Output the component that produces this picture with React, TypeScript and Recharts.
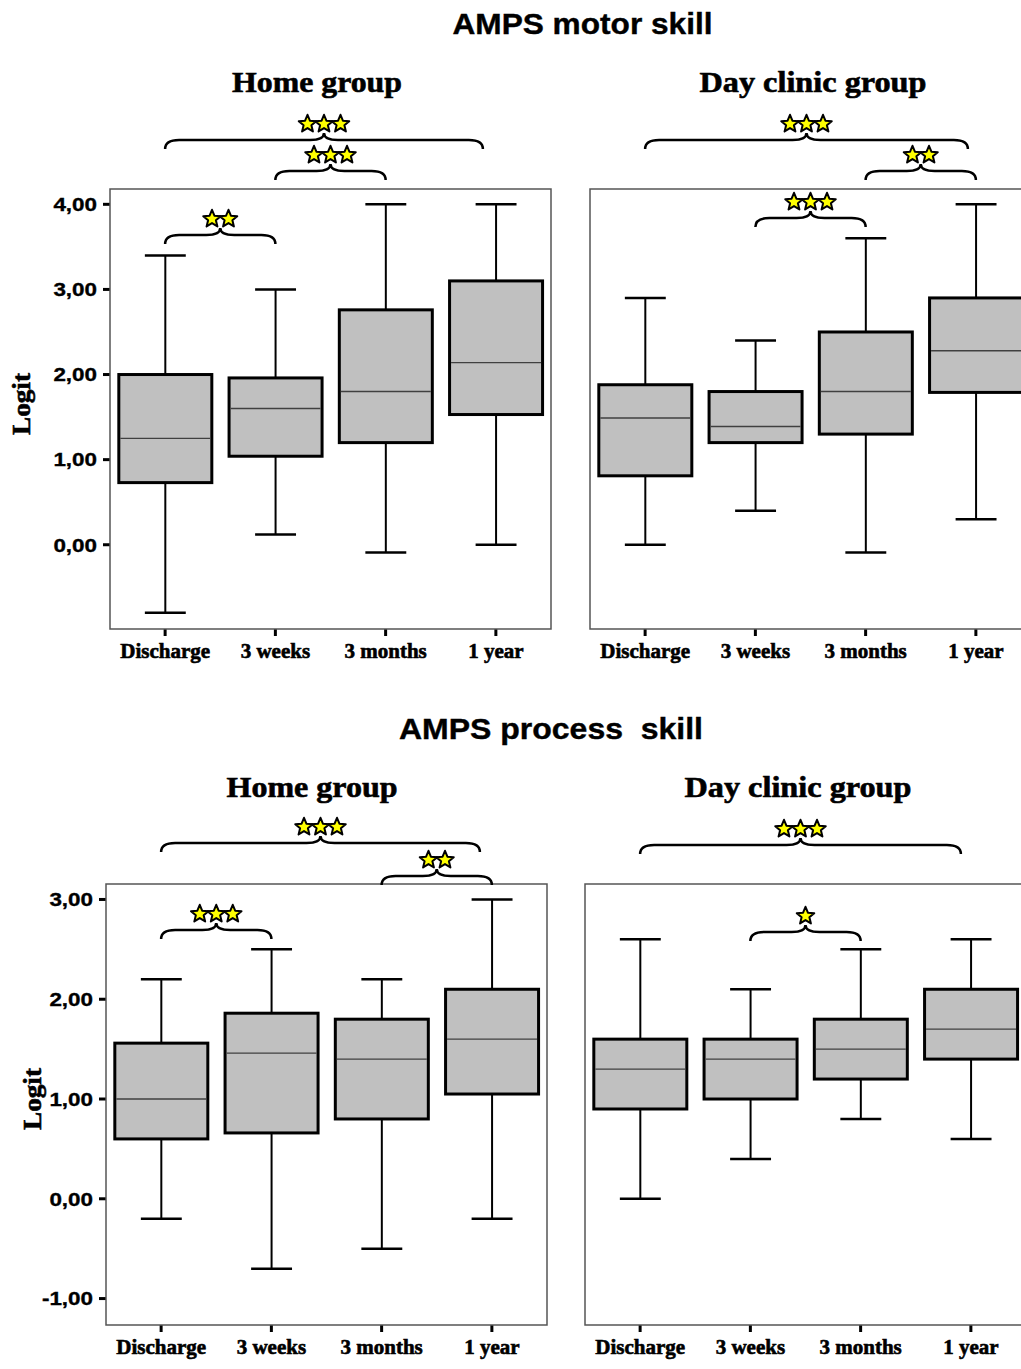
import React from 'react';
import { BarChart, Bar, XAxis, YAxis } from 'recharts';

const categories = ['Discharge', '3 weeks', '3 months', '1 year'];

// AMPS motor skill - home group
const motorHomeMin = [-0.8, 0.12, -0.09, 0.0];
const motorHomeQ1 = [0.73, 1.04, 1.2, 1.53];
const motorHomeMed = [1.25, 1.6, 1.8, 2.14];
const motorHomeQ3 = [2.0, 1.96, 2.76, 3.1];
const motorHomeMax = [3.4, 3.0, 4.0, 4.0];

// AMPS motor skill - day clinic group
const motorDayMin = [0.0, 0.4, -0.09, 0.3];
const motorDayQ1 = [0.81, 1.2, 1.3, 1.79];
const motorDayMed = [1.49, 1.39, 1.8, 2.28];
const motorDayQ3 = [1.88, 1.8, 2.5, 2.9];
const motorDayMax = [2.9, 2.4, 3.6, 4.0];

// AMPS process skill - home group
const processHomeMin = [-0.2, -0.7, -0.5, -0.2];
const processHomeQ1 = [0.6, 0.66, 0.8, 1.05];
const processHomeMed = [1.0, 1.46, 1.4, 1.6];
const processHomeQ3 = [1.56, 1.86, 1.8, 2.1];
const processHomeMax = [2.2, 2.5, 2.2, 3.0];

// AMPS process skill - day clinic group
const processDayMin = [0.0, 0.4, 0.8, 0.6];
const processDayQ1 = [0.9, 1.0, 1.2, 1.4];
const processDayMed = [1.3, 1.4, 1.5, 1.7];
const processDayQ3 = [1.6, 1.6, 1.8, 2.1];
const processDayMax = [2.6, 2.1, 2.5, 2.6];

const motorTicks = [0, 1, 2, 3, 4];
const processTicks = [-1, 0, 1, 2, 3];

// significance: [from, to, stars]
const motorHomeSig = [[0, 3, 3], [1, 2, 3], [0, 1, 2]];
const motorDaySig = [[0, 3, 3], [2, 3, 2], [1, 2, 3]];
const processHomeSig = [[0, 3, 3], [2, 3, 2], [0, 1, 3]];
const processDaySig = [[0, 3, 3], [1, 2, 1]];

const rowsOf = (mn: number[], q1: number[], md: number[], q3: number[], mx: number[]) =>
  categories.map((name, i) => ({ name, min: mn[i], q1: q1[i], med: md[i], q3: q3[i], max: mx[i] }));

const fmt = (v: number) => v.toFixed(2).replace('.', ',');

const SANS = '"Liberation Sans", Arial, sans-serif';
const SERIF = '"Liberation Serif", "Times New Roman", serif';

const BoxShape = (props: any) => {
  const { x, y, width, height, payload } = props;
  const span = payload.max - payload.min;
  const py = (v: number) => y + ((payload.max - v) / span) * height;
  const cx = x + width / 2;
  const cap = width * 0.44;
  const top = py(payload.q3);
  const bot = py(payload.q1);
  const med = py(payload.med);
  const hi = py(payload.max);
  const lo = py(payload.min);
  return (
    <g>
      <line x1={cx} x2={cx} y1={hi} y2={top} stroke="#000" strokeWidth={2} />
      <line x1={cx} x2={cx} y1={bot} y2={lo} stroke="#000" strokeWidth={2} />
      <line x1={cx - cap / 2} x2={cx + cap / 2} y1={hi} y2={hi} stroke="#000" strokeWidth={2.5} />
      <line x1={cx - cap / 2} x2={cx + cap / 2} y1={lo} y2={lo} stroke="#000" strokeWidth={2.5} />
      <rect x={x} y={top} width={width} height={bot - top} fill="#c0c0c0" stroke="#000" strokeWidth={3} />
      <line x1={x + 1.5} x2={x + width - 1.5} y1={med} y2={med} stroke="#404040" strokeWidth={1.4} />
    </g>
  );
};

const YTick = (props: any) => {
  const { x, y, payload } = props;
  return (
    <text
      transform={`translate(${x},${y}) scale(1.18,1)`}
      textAnchor="end"
      dy="0.36em"
      fontFamily={SANS}
      fontWeight={700}
      fontSize={19}
      fill="#000"
      stroke="#000"
      strokeWidth={0.35}
    >
      {fmt(payload.value)}
    </text>
  );
};

const XTick = (props: any) => {
  const { x, y, payload } = props;
  return (
    <text
      transform={`translate(${x},${y + 16}) scale(1.05,1)`}
      textAnchor="middle"
      fontFamily={SERIF}
      fontWeight={700}
      fontSize={20}
      fill="#000"
      stroke="#000"
      strokeWidth={0.6}
    >
      {payload.value}
    </text>
  );
};

type Frame = { x: number; y: number; w: number; h: number };

const Panel = ({ rows, frame, yAxisW, domain, ticks, labels }: any) => {
  const xAxisH = 50;
  return (
    <div style={{ position: 'absolute', left: frame.x - yAxisW, top: frame.y }}>
      <BarChart
        width={yAxisW + frame.w}
        height={frame.h + xAxisH}
        data={rows}
        margin={{ top: 0, right: 0, bottom: 0, left: 0 }}
        barCategoryGap="8%"
      >
        <XAxis
          dataKey="name"
          height={xAxisH}
          interval={0}
          tickSize={7}
          tickMargin={6}
          axisLine={false}
          tickLine={{ stroke: '#000', strokeWidth: 3 }}
          tick={<XTick />}
        />
        <YAxis
          type="number"
          width={yAxisW}
          domain={domain}
          ticks={ticks}
          allowDataOverflow
          interval={0}
          tickSize={7}
          tickMargin={6}
          axisLine={false}
          tickLine={{ stroke: '#000', strokeWidth: 3 }}
          tick={labels ? <YTick /> : false}
        />
        <Bar dataKey={(d: any) => [d.min, d.max]} shape={BoxShape} isAnimationActive={false} />
      </BarChart>
    </div>
  );
};

const bracePath = (x1: number, x2: number, yH: number) => {
  const xm = (x1 + x2) / 2;
  const d = 9;
  const t = 7;
  const r = 14;
  return `M${x1},${yH + d} Q${x1},${yH} ${x1 + r},${yH} L${xm - r},${yH} Q${xm},${yH} ${xm},${yH - t} Q${xm},${yH} ${xm + r},${yH} L${x2 - r},${yH} Q${x2},${yH} ${x2},${yH + d}`;
};

const starPath = (cx: number, cy: number, R: number, r: number) => {
  const pts: string[] = [];
  for (let k = 0; k < 10; k++) {
    const a = (-90 + k * 36) * (Math.PI / 180);
    const rad = k % 2 === 0 ? R : r;
    pts.push(`${(cx + rad * Math.cos(a)).toFixed(2)},${(cy + rad * Math.sin(a)).toFixed(2)}`);
  }
  return `M${pts.join('L')}Z`;
};

const Braces = ({ frame, sig, levels, shifts }: any) => {
  const band = frame.w / categories.length;
  const cx = (i: number) => frame.x + band * (i + 0.5);
  return (
    <g>
      {sig.map((s: number[], k: number) => {
        const x1 = cx(s[0]);
        const x2 = cx(s[1]) - (shifts[k] || 0);
        const yH = levels[k];
        const xm = (x1 + x2) / 2;
        const n = s[2];
        return (
          <g key={k}>
            <path d={bracePath(x1, x2, yH)} fill="none" stroke="#000" strokeWidth={2.5} />
            {Array.from({ length: n }).map((_, j) => (
              <path
                key={j}
                d={starPath(xm + (j - (n - 1) / 2) * 16.5, yH - 16, 9.2, 4.1)}
                fill="#ffff00"
                stroke="#000"
                strokeWidth={2}
                strokeLinejoin="round"
              />
            ))}
          </g>
        );
      })}
    </g>
  );
};

const motorHomeFrame: Frame = { x: 110, y: 189, w: 441, h: 440 };
const motorDayFrame: Frame = { x: 590, y: 189, w: 441, h: 440 };
const processHomeFrame: Frame = { x: 106, y: 884, w: 441, h: 441 };
const processDayFrame: Frame = { x: 585, y: 884, w: 441, h: 441 };

export default function App() {
  const titleStyle = { fontFamily: SANS, fontWeight: 700, fontSize: 30, stroke: '#000', strokeWidth: 0.4 } as const;
  const subStyle = { fontFamily: SERIF, fontWeight: 700, fontSize: 29, stroke: '#000', strokeWidth: 0.6 } as const;
  const frames = [motorHomeFrame, motorDayFrame, processHomeFrame, processDayFrame];
  return (
    <div style={{ position: 'absolute', left: 0, top: 0, width: 1021, height: 1369, overflow: 'hidden', background: '#fff' }}>
      <Panel
        rows={rowsOf(motorHomeMin, motorHomeQ1, motorHomeMed, motorHomeQ3, motorHomeMax)}
        frame={motorHomeFrame}
        yAxisW={110}
        domain={[-0.99, 4.18]}
        ticks={motorTicks}
        labels
      />
      <Panel
        rows={rowsOf(motorDayMin, motorDayQ1, motorDayMed, motorDayQ3, motorDayMax)}
        frame={motorDayFrame}
        yAxisW={40}
        domain={[-0.99, 4.18]}
        ticks={motorTicks}
        labels={false}
      />
      <Panel
        rows={rowsOf(processHomeMin, processHomeQ1, processHomeMed, processHomeQ3, processHomeMax)}
        frame={processHomeFrame}
        yAxisW={106}
        domain={[-1.265, 3.155]}
        ticks={processTicks}
        labels
      />
      <Panel
        rows={rowsOf(processDayMin, processDayQ1, processDayMed, processDayQ3, processDayMax)}
        frame={processDayFrame}
        yAxisW={40}
        domain={[-1.265, 3.155]}
        ticks={processTicks}
        labels={false}
      />
      <svg
        width={1021}
        height={1369}
        style={{ position: 'absolute', left: 0, top: 0, pointerEvents: 'none' }}
      >
        {frames.map((f, i) => (
          <rect key={i} x={f.x} y={f.y} width={f.w} height={f.h} fill="none" stroke="#555" strokeWidth={1.5} />
        ))}
        <text x={582.5} y={34} textAnchor="middle" textLength={260} lengthAdjust="spacingAndGlyphs" {...titleStyle}>
          AMPS motor skill
        </text>
        <text x={551} y={739} textAnchor="middle" textLength={304} lengthAdjust="spacingAndGlyphs" style={{ whiteSpace: 'pre' }} {...titleStyle}>
          AMPS process  skill
        </text>
        <text x={317} y={92} textAnchor="middle" textLength={170} lengthAdjust="spacingAndGlyphs" {...subStyle}>
          Home group
        </text>
        <text x={813} y={92} textAnchor="middle" textLength={227} lengthAdjust="spacingAndGlyphs" {...subStyle}>
          Day clinic group
        </text>
        <text x={312} y={797} textAnchor="middle" textLength={171} lengthAdjust="spacingAndGlyphs" {...subStyle}>
          Home group
        </text>
        <text x={798} y={797} textAnchor="middle" textLength={227} lengthAdjust="spacingAndGlyphs" {...subStyle}>
          Day clinic group
        </text>
        <text
          transform="translate(30,404) rotate(-90)"
          textAnchor="middle"
          fontFamily={SERIF}
          fontWeight={700}
          fontSize={26}
          stroke="#000"
          strokeWidth={0.6}
          textLength={62}
          lengthAdjust="spacingAndGlyphs"
        >
          Logit
        </text>
        <text
          transform="translate(41,1099) rotate(-90)"
          textAnchor="middle"
          fontFamily={SERIF}
          fontWeight={700}
          fontSize={26}
          stroke="#000"
          strokeWidth={0.6}
          textLength={62}
          lengthAdjust="spacingAndGlyphs"
        >
          Logit
        </text>
        <Braces frame={motorHomeFrame} sig={motorHomeSig} levels={[140, 171, 235]} shifts={[13, 0, 0]} />
        <Braces frame={motorDayFrame} sig={motorDaySig} levels={[140, 171, 218]} shifts={[8, 0, 0]} />
        <Braces frame={processHomeFrame} sig={processHomeSig} levels={[843, 876, 930]} shifts={[12, 0, 0]} />
        <Braces frame={processDayFrame} sig={processDaySig} levels={[845, 932]} shifts={[10, 0]} />
      </svg>
    </div>
  );
}
